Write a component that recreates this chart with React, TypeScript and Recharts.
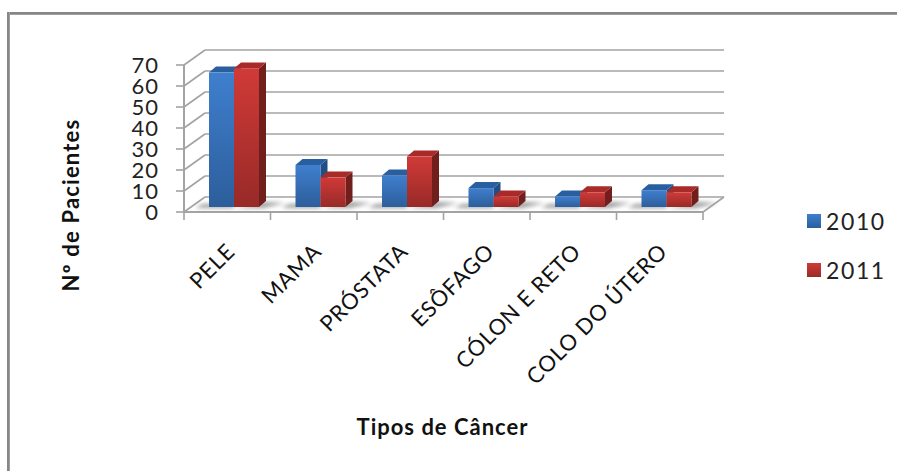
import { BarChart, Bar, XAxis, YAxis, CartesianGrid, Legend } from 'recharts';

const categories = ['PELE', 'MAMA', 'PRÓSTATA', 'ESÔFAGO', 'CÓLON E RETO', 'COLO DO ÚTERO'];
const values2010 = [64, 20, 15, 9, 5, 8];
const values2011 = [66, 14, 24, 5, 7, 7];
const yTicks = [0, 10, 20, 30, 40, 50, 60, 70];

const chartData = categories.map((name, i) => ({ name, y2010: values2010[i], y2011: values2011[i] }));

const FONT = 'Lato, "Open Sans", sans-serif';
const GRID = '#a3a3a3';

// plot box (front edge of the floor)
const LEFT = 184;
const RIGHT = 703;
const TOP = 65;
const BOTTOM = 212;

// how far the back wall sits from the front edge
const DEPTH_X = 21;
const DEPTH_Y = -15;
// bars stand in the middle of the floor
const BAR_DX = 7;
const BAR_DY = -5;
const SIDE_X = 7;
const SIDE_Y = -6;

const GridLine = (props: any) => {
  const { x1, x2, y1 } = props;
  const backY = y1 + DEPTH_Y;
  const isFloor = Math.abs(y1 - BOTTOM) < 1;
  return (
    <g stroke={GRID} strokeWidth={1.6} fill="none">
      <line x1={x1} y1={y1} x2={x1 + DEPTH_X} y2={backY} />
      <line x1={x1 + DEPTH_X} y1={backY} x2={x2 + DEPTH_X} y2={backY} />
      {isFloor && <line x1={x2} y1={y1} x2={x2 + DEPTH_X} y2={backY} />}
    </g>
  );
};

const Bar3D = (props: any) => {
  const { x, y, width, height, tone, side } = props;
  const left = x + BAR_DX;
  const w = width;
  const top = y + BAR_DY;
  const base = top + height;
  const right = left + w;
  const colors = tone === 'blue'
    ? { face: 'url(#faceBlue)', side: '#214f85', top: '#2a5f9f' }
    : { face: 'url(#faceRed)', side: '#701f1d', top: '#a92b29' };
  const shadow = side === 'left'
    ? `${left - 14},${base + 1} ${right},${base + 1} ${right},${base - 3} ${left - 6},${base - 3}`
    : `${left},${base + 1} ${right + 4},${base + 1} ${right + 26},${base - 4} ${right + 6},${base - 5}`;
  return (
    <g>
      <polygon points={shadow} fill="#9c9c9c" filter="url(#floorShadow)" />
      <polygon
        points={`${right},${top} ${right + SIDE_X},${top + SIDE_Y} ${right + SIDE_X},${base + SIDE_Y} ${right},${base}`}
        fill={colors.side}
      />
      <polygon
        points={`${left},${top} ${left + SIDE_X},${top + SIDE_Y} ${right + SIDE_X},${top + SIDE_Y} ${right},${top}`}
        fill={colors.top}
      />
      <rect x={left} y={top} width={w} height={height} fill={colors.face} />
    </g>
  );
};

const BlueBar = (props: any) => <Bar3D {...props} tone="blue" side="left" />;
const RedBar = (props: any) => <Bar3D {...props} tone="red" side="right" />;

const CategoryTick = (props: any) => {
  const { x, payload, index } = props;
  const band = (RIGHT - LEFT) / categories.length;
  const tx = x + 9;
  const ty = BOTTOM + 41;
  return (
    <g>
      <g stroke={GRID} strokeWidth={1.6}>
        <line x1={x - band / 2} y1={BOTTOM} x2={x - band / 2} y2={BOTTOM + 8} />
        {index === categories.length - 1 && (
          <line x1={x + band / 2} y1={BOTTOM} x2={x + band / 2} y2={BOTTOM + 8} />
        )}
      </g>
      <text
        x={tx}
        y={ty}
        textAnchor="end"
        transform={`rotate(-45 ${tx} ${ty})`}
        fontFamily={FONT}
        fontSize={22}
        letterSpacing={0.7}
        fill="#111"
      >
        {payload.value}
      </text>
    </g>
  );
};

const YTitle = () => (
  <text
    x={79}
    y={205}
    textAnchor="middle"
    transform="rotate(-90 79 205)"
    fontFamily={FONT}
    fontSize={22}
    fontWeight={700}
    letterSpacing={1.2}
    fill="#111"
  >
    Nº de Pacientes
  </text>
);

const LegendBox = () => (
  <div style={{ fontFamily: FONT, fontSize: 23, letterSpacing: 1.6, color: '#222', lineHeight: '24px' }}>
    {[
      { label: '2010', bg: 'linear-gradient(#3f7fce, #2c5e9b)', mb: 25 },
      { label: '2011', bg: 'linear-gradient(#d03a37, #982a28)', mb: 0 },
    ].map((item) => (
      <div key={item.label} style={{ display: 'flex', alignItems: 'center', marginBottom: item.mb }}>
        <span style={{ width: 14, height: 14, background: item.bg, marginRight: 5 }} />
        <span>{item.label}</span>
      </div>
    ))}
  </div>
);

export default function App() {
  return (
    <div style={{ position: 'absolute', left: 0, top: 0, width: 897, height: 471, background: '#fff', overflow: 'hidden' }}>
      {/* chart frame, only the top and left edges show */}
      <div style={{ position: 'absolute', left: 7, top: 12, width: 890, height: 3, background: 'linear-gradient(#868686, #868686 60%, #b0b0b0)' }} />
      <div style={{ position: 'absolute', left: 7, top: 12, width: 3, height: 459, background: 'linear-gradient(90deg, #868686, #868686 60%, #b0b0b0)' }} />
      <BarChart
        width={897}
        height={471}
        data={chartData}
        barSize={25}
        barGap={0}
        margin={{ top: TOP, left: 0, right: 897 - RIGHT, bottom: 0 }}
      >
        <defs>
          <linearGradient id="faceBlue" x1="0" y1="0" x2="0" y2="1">
            <stop offset="0%" stopColor="#3f7fce" />
            <stop offset="100%" stopColor="#2c5e9b" />
          </linearGradient>
          <linearGradient id="faceRed" x1="0" y1="0" x2="0" y2="1">
            <stop offset="0%" stopColor="#d03a37" />
            <stop offset="100%" stopColor="#982a28" />
          </linearGradient>
          <filter id="floorShadow" x="-30%" y="-200%" width="160%" height="500%">
            <feGaussianBlur stdDeviation="2" />
          </filter>
        </defs>
        <CartesianGrid vertical={false} horizontal={GridLine} />
        <XAxis
          dataKey="name"
          height={471 - BOTTOM}
          interval={0}
          axisLine={{ stroke: GRID, strokeWidth: 2 }}
          tickLine={false}
          tick={CategoryTick}
          label={{
            value: 'Tipos de Câncer',
            position: 'insideBottom',
            offset: 36,
            dx: -1,
            style: { fontFamily: FONT, fontSize: 22, fontWeight: 700, letterSpacing: 1, fill: '#111' },
          }}
        />
        <YAxis
          domain={[0, 70]}
          ticks={yTicks}
          interval={0}
          width={LEFT}
          axisLine={{ stroke: GRID, strokeWidth: 2 }}
          tickLine={{ stroke: GRID, strokeWidth: 1.6 }}
          tickSize={8}
          tickMargin={17}
          tick={{ fontFamily: FONT, fontSize: 22, letterSpacing: 1, fill: '#222' }}
          label={{ content: YTitle }}
        />
        <Legend
          layout="vertical"
          align="center"
          verticalAlign="middle"
          content={LegendBox}
          wrapperStyle={{ position: 'absolute', left: 807, top: 209, width: 90, height: 80, bottom: 'auto', right: 'auto' }}
        />
        <Bar dataKey="y2010" name="2010" shape={BlueBar} isAnimationActive={false} />
        <Bar dataKey="y2011" name="2011" shape={RedBar} isAnimationActive={false} />
      </BarChart>
    </div>
  );
}
